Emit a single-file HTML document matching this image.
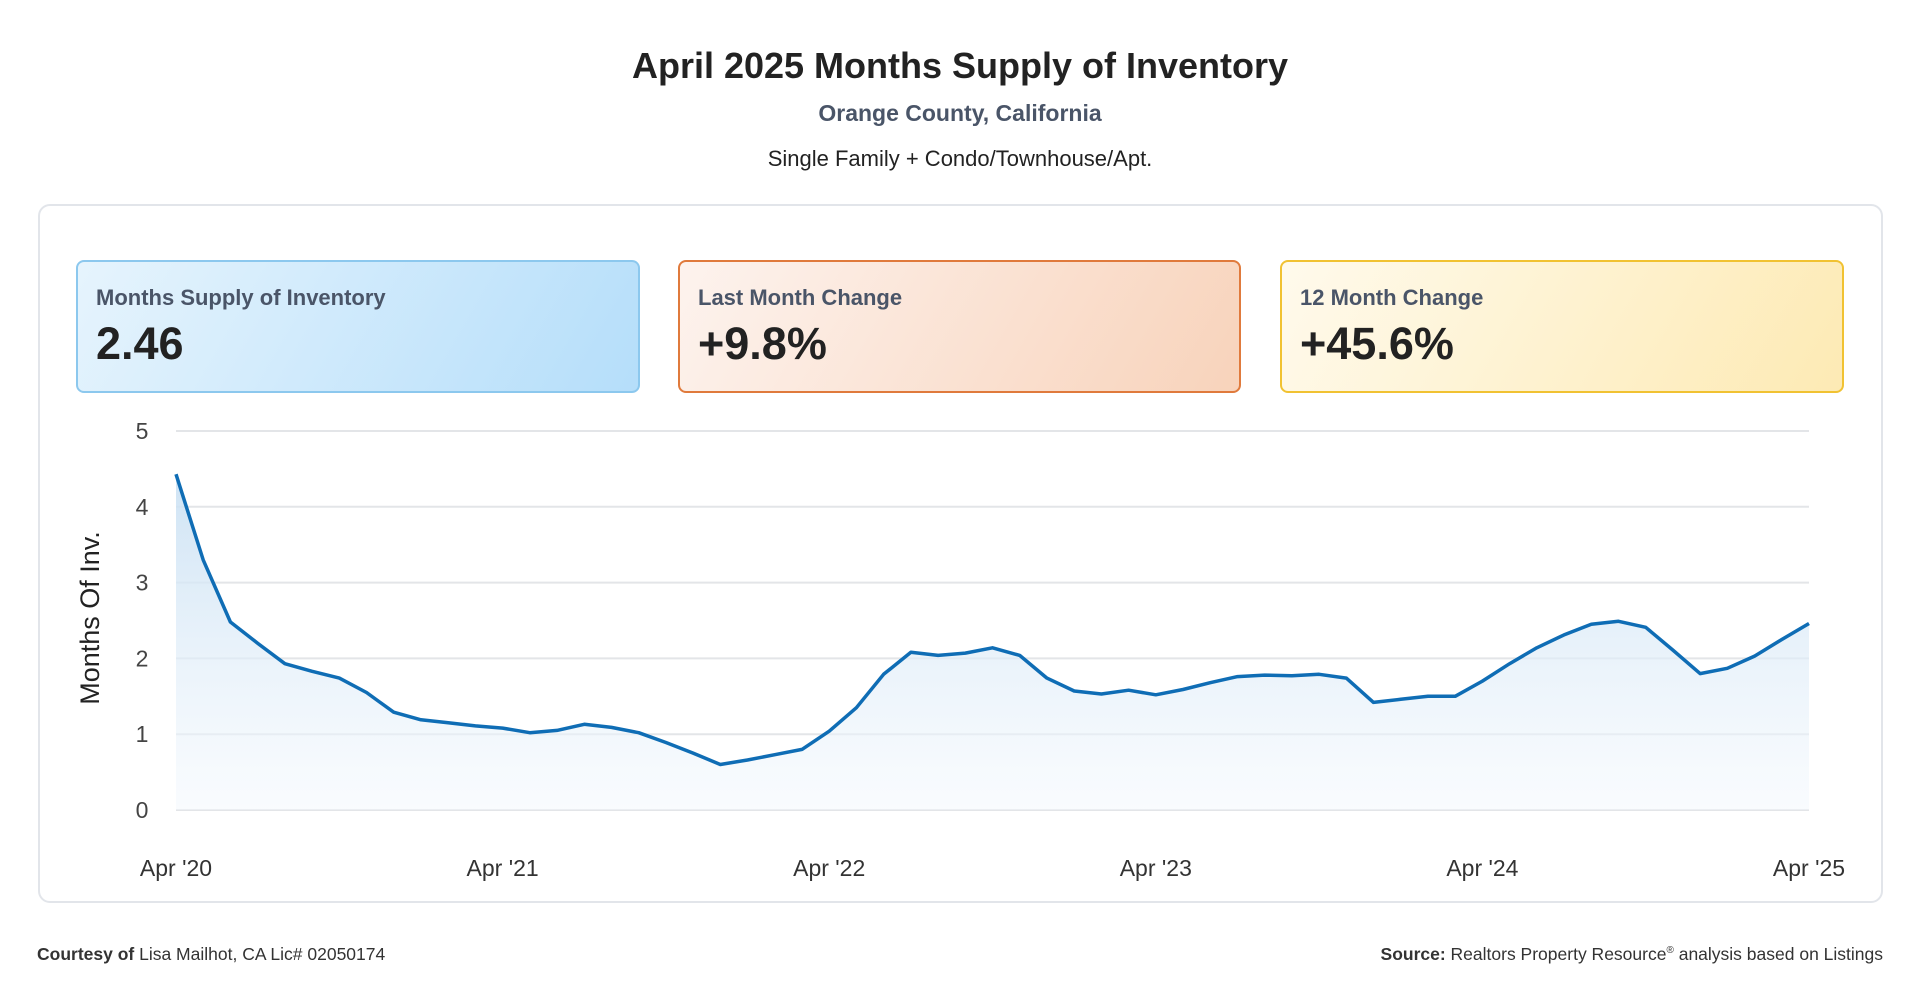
<!DOCTYPE html>
<html><head><meta charset="utf-8"><style>
*{margin:0;padding:0;box-sizing:border-box}
body{width:1920px;height:1007px;background:#fff;font-family:"Liberation Sans",Arial,sans-serif;position:relative;overflow:hidden;color:#222}
.abs{position:absolute}
.title{left:0;width:1920px;top:45px;text-align:center;font-size:36px;font-weight:bold;color:#222}
.sub{left:0;width:1920px;top:100px;text-align:center;font-size:23px;font-weight:bold;color:#4a5568}
.sub2{left:0;width:1920px;top:146px;text-align:center;font-size:22px;color:#222}
.card{left:38px;top:204px;width:1845px;height:699px;border:2px solid #e2e5ea;border-radius:12px}
.stat{top:260px;height:133px;width:564px;border-radius:8px;border:2px solid}
.stat .lbl{position:absolute;left:18px;top:23px;font-size:22px;font-weight:bold;color:#4a5568}
.stat .val{position:absolute;left:18px;top:56px;font-size:45px;font-weight:bold;color:#222}
.foot{top:944px;font-size:17.5px;color:#333}
</style></head><body>
<div class="abs title">April 2025 Months Supply of Inventory</div>
<div class="abs sub">Orange County, California</div>
<div class="abs sub2">Single Family + Condo/Townhouse/Apt.</div>
<div class="abs card"></div>
<div class="abs stat" style="left:76px;border-color:#8cc8ee;background:linear-gradient(120deg,#e6f4fd,#b5defa)"><div class="lbl">Months Supply of Inventory</div><div class="val">2.46</div></div>
<div class="abs stat" style="left:678px;width:563px;border-color:#e07a3c;background:linear-gradient(120deg,#fdf3ee,#f8d3bb)"><div class="lbl">Last Month Change</div><div class="val">+9.8%</div></div>
<div class="abs stat" style="left:1280px;border-color:#f1c232;background:linear-gradient(120deg,#fffaec,#fdeab4)"><div class="lbl">12 Month Change</div><div class="val">+45.6%</div></div>
<svg class="abs" style="left:0;top:0" width="1920" height="1007">
<defs><linearGradient id="fg" x1="0" y1="0" x2="0" y2="1"><stop offset="0" stop-color="#c9e0f3" stop-opacity="0.9"/><stop offset="1" stop-color="#f3f8fd" stop-opacity="0.5"/></linearGradient></defs>
<g id="grid"></g><g id="series"></g><g id="labels"></g>
<text x="0" y="0" transform="translate(99,618) rotate(-90)" text-anchor="middle" font-size="27" fill="#222">Months Of Inv.</text>
</svg>
<div class="abs foot" style="left:37px"><b>Courtesy of</b> Lisa Mailhot, CA Lic# 02050174</div>
<div class="abs foot" style="right:37px"><b>Source:</b> Realtors Property Resource<sup style="font-size:10px">®</sup> analysis based on Listings</div>
<script>
const yTicks=[0,1,2,3,4,5];
const xTickLabels=["Apr '20","Apr '21","Apr '22","Apr '23","Apr '24","Apr '25"];
const xTickIndex=[0,12,24,36,48,60];
const values=[4.43,3.3,2.48,2.2,1.93,1.83,1.74,1.55,1.29,1.19,1.15,1.11,1.08,1.02,1.05,1.13,1.09,1.02,0.89,0.75,0.6,0.66,0.73,0.8,1.04,1.35,1.79,2.08,2.04,2.07,2.14,2.04,1.74,1.57,1.53,1.58,1.52,1.59,1.68,1.76,1.78,1.77,1.79,1.74,1.42,1.46,1.5,1.5,1.7,1.93,2.14,2.31,2.45,2.49,2.41,2.11,1.8,1.87,2.03,2.25,2.46];
const X0=176,X1=1809,Y0=810,Y5=431;
const xs=i=>X0+(X1-X0)*i/(values.length-1);
const ys=v=>Y0-(Y0-Y5)*v/5;
const NS='http://www.w3.org/2000/svg';
const grid=document.getElementById('grid'),ser=document.getElementById('series'),lab=document.getElementById('labels');
function mk(tag,at,parent){const e=document.createElementNS(NS,tag);for(const k in at)e.setAttribute(k,at[k]);parent.appendChild(e);return e;}
yTicks.forEach(t=>{
 const l=mk('line',{x1:X0,x2:X1,y1:ys(t),y2:ys(t),stroke:'#e3e5e8','stroke-width':2},grid);
 
 
 const tx=mk('text',{x:142,y:ys(t)+8,'text-anchor':'middle','font-size':23,fill:'#444'},lab);
 tx.textContent=t;
 
 
});
xTickLabels.forEach((s,k)=>{
 const tx=mk('text',{x:xs(xTickIndex[k]),y:876,'text-anchor':'middle','font-size':23,fill:'#333'},lab);
 tx.textContent=s;
 
 
});
let d=values.map((v,i)=>(i?'L':'M')+xs(i).toFixed(1)+' '+ys(v).toFixed(1)).join(' ');
const area=mk('path',{d:d+` L${xs(values.length-1)} ${Y0} L${X0} ${Y0} Z`,fill:'url(#fg)'},ser);


const line=mk('path',{d:d,fill:'none',stroke:'#0f6db5','stroke-width':3.5,'stroke-linejoin':'round'},ser);


</script>
</body></html>
